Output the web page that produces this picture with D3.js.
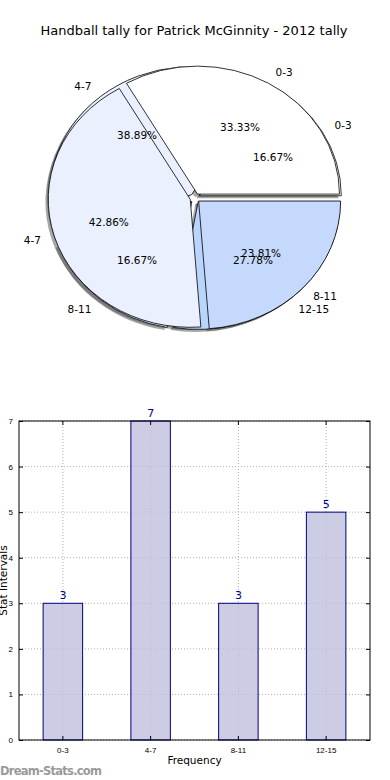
<!DOCTYPE html>
<html>
<head>
<meta charset="utf-8">
<script src="https://cdn.jsdelivr.net/npm/d3@7"></script>
<style>
  body { margin: 0; background: #fff; }
  svg { display: block; font-family: "DejaVu Sans", sans-serif; }
</style>
</head>
<body>
<div class="chart"></div>
<script>
const width = 390;
const height = 780;

// pie data (two tallies drawn on top of each other)
const pieLabelsBack = ["0-3", "4-7", "8-11", "12-15"];
const pieValuesBack = [3, 7, 3, 5];
const pieColorsBack = ["#ffffff", "#eaf0fd", "#d8e5fc", "#b9d5fb"];

const pieLabelsFront = ["0-3", "4-7", "8-11"];
const pieValuesFront = [7, 9, 5];
const pieColorsFront = ["#ffffff", "#eaf0fd", "#c5d9fc"];

// bar data
const barLabels = ["0-3", "4-7", "8-11", "12-15"];
const barValues = [3, 7, 3, 5];
const yTicks = [0, 1, 2, 3, 4, 5, 6, 7];

const svg = d3.select(".chart")
  .append("svg")
  .attr("width", width)
  .attr("height", height);

svg.append("text")
  .attr("x", 194)
  .attr("y", 35)
  .attr("text-anchor", "middle")
  .style("font-size", "13px")
  .text("Handball tally for Patrick McGinnity - 2012 tally");

// ---- pie ----
const cx = 195, cy = 198, rx = 142, ry = 128;
const explode = 0.035;

// matplotlib style: start at 3 o'clock, go counter-clockwise
const pie = d3.pie().sort(null).startAngle(Math.PI / 2).endAngle(Math.PI / 2 - 2 * Math.PI);
const arc = d3.arc().innerRadius(0).outerRadius(rx);

const arcsBack = pie(pieValuesBack).map((d, i) => ({ ...d, label: pieLabelsBack[i], color: pieColorsBack[i] }));
const arcsFront = pie(pieValuesFront).map((d, i) => ({ ...d, label: pieLabelsFront[i], color: pieColorsFront[i] }));

const midA = (d) => (d.startAngle + d.endAngle) / 2;
const offset = (d) => [explode * rx * Math.sin(midA(d)), -explode * rx * Math.cos(midA(d))];

const pieG = svg.append("g")
  .attr("transform", `translate(${cx},${cy}) scale(1,${ry / rx})`);

// shadows go underneath everything
const shadowG = pieG.append("g").attr("transform", `translate(${-0.02 * rx},${0.02 * rx})`);
[arcsBack, arcsFront].forEach((arcs) => {
  shadowG.selectAll(null)
    .data(arcs)
    .enter()
    .append("path")
    .attr("transform", (d) => `translate(${offset(d)})`)
    .attr("d", arc)
    .attr("fill", "#4d4d4d")
    .attr("fill-opacity", 0.5);
});

[arcsBack, arcsFront].forEach((arcs) => {
  pieG.append("g")
    .selectAll("path")
    .data(arcs)
    .enter()
    .append("path")
    .attr("transform", (d) => `translate(${offset(d)})`)
    .attr("d", arc)
    .attr("fill", (d) => d.color)
    .attr("stroke", "#000")
    .attr("stroke-width", 0.8)
    .attr("stroke-linejoin", "round")
    .attr("vector-effect", "non-scaling-stroke");
});

// labels
[arcsBack, arcsFront].forEach((arcs) => {
  const sum = d3.sum(arcs, (d) => d.value);
  const g = svg.append("g").style("font-size", "10.5px");
  g.selectAll(".lab")
    .data(arcs)
    .enter()
    .append("text")
    .attr("x", (d) => cx + (explode + 1.1) * rx * Math.sin(midA(d)))
    .attr("y", (d) => cy - (explode + 1.1) * ry * Math.cos(midA(d)))
    .attr("dy", "0.35em")
    .attr("text-anchor", (d) => (Math.sin(midA(d)) >= 0 ? "start" : "end"))
    .text((d) => d.label);
  g.selectAll(".pct")
    .data(arcs)
    .enter()
    .append("text")
    .attr("x", (d) => cx + (explode + 0.6) * rx * Math.sin(midA(d)))
    .attr("y", (d) => cy - (explode + 0.6) * ry * Math.cos(midA(d)))
    .attr("dy", "0.35em")
    .attr("text-anchor", "middle")
    .text((d) => ((d.value / sum) * 100).toFixed(2) + "%");
});

// ---- bar chart ----
const plotLeft = 19, plotRight = 370, plotTop = 421, plotBottom = 740;

const x = d3.scaleBand()
  .domain(barLabels)
  .range([plotLeft, plotRight])
  .paddingInner(0.55)
  .paddingOuter(0.275);

const y = d3.scaleLinear().domain([0, 7]).range([plotBottom, plotTop]);

const barG = svg.append("g");

// grid
barG.append("g")
  .selectAll("line")
  .data(yTicks)
  .enter()
  .append("line")
  .attr("x1", plotLeft)
  .attr("x2", plotRight)
  .attr("y1", (d) => y(d))
  .attr("y2", (d) => y(d))
  .attr("stroke", "#b0b0b0")
  .attr("stroke-dasharray", "1,2");

barG.append("g")
  .selectAll("line")
  .data(barLabels)
  .enter()
  .append("line")
  .attr("x1", (d) => x(d) + x.bandwidth() / 2)
  .attr("x2", (d) => x(d) + x.bandwidth() / 2)
  .attr("y1", plotTop)
  .attr("y2", plotBottom)
  .attr("stroke", "#b0b0b0")
  .attr("stroke-dasharray", "1,2");

// bars
barG.selectAll("rect.bar")
  .data(barValues)
  .enter()
  .append("rect")
  .attr("class", "bar")
  .attr("x", (d, i) => x(barLabels[i]))
  .attr("y", (d) => y(d))
  .attr("width", x.bandwidth())
  .attr("height", (d) => plotBottom - y(d))
  .attr("fill", "#bfbfdf")
  .attr("fill-opacity", 0.8)
  .attr("stroke", "#000080")
  .attr("stroke-width", 1);

barG.selectAll("text.val")
  .data(barValues)
  .enter()
  .append("text")
  .attr("class", "val")
  .attr("x", (d, i) => x(barLabels[i]) + x.bandwidth() / 2)
  .attr("y", (d) => y(d) - 4)
  .attr("text-anchor", "middle")
  .attr("fill", "#000080")
  .style("font-size", "11px")
  .text((d) => d);

// frame
barG.append("rect")
  .attr("x", plotLeft)
  .attr("y", plotTop)
  .attr("width", plotRight - plotLeft)
  .attr("height", plotBottom - plotTop)
  .attr("fill", "none")
  .attr("stroke", "#000");

// axes with inward ticks
const gy = barG.append("g")
  .attr("transform", `translate(${plotLeft},0)`)
  .call(d3.axisLeft(y).tickValues(yTicks).tickFormat(d3.format("d")).tickSize(-4).tickPadding(6));
gy.select(".domain").remove();
gy.selectAll("text").style("font-size", "8px");

const gyR = barG.append("g")
  .attr("transform", `translate(${plotRight},0)`)
  .call(d3.axisRight(y).tickValues(yTicks).tickSize(-4).tickFormat(""));
gyR.select(".domain").remove();

const gx = barG.append("g")
  .attr("transform", `translate(0,${plotBottom})`)
  .call(d3.axisBottom(x).tickSize(-4).tickPadding(7));
gx.select(".domain").remove();
gx.selectAll("text").style("font-size", "8px");

const gxT = barG.append("g")
  .attr("transform", `translate(0,${plotTop})`)
  .call(d3.axisTop(x).tickSize(-4).tickFormat(""));
gxT.select(".domain").remove();

barG.append("text")
  .attr("x", (plotLeft + plotRight) / 2)
  .attr("y", 764)
  .attr("text-anchor", "middle")
  .style("font-size", "10.5px")
  .text("Frequency");

barG.append("text")
  .attr("transform", `translate(7,${(plotTop + plotBottom) / 2}) rotate(-90)`)
  .attr("text-anchor", "middle")
  .style("font-size", "10.5px")
  .text("Stat Intervals");

svg.append("text")
  .attr("x", 0)
  .attr("y", 775)
  .attr("fill", "#9a9a9a")
  .style("font-size", "11.5px")
  .style("font-weight", "bold")
  .attr("textLength", 102)
  .text("Dream-Stats.com");
</script>
</body>
</html>
